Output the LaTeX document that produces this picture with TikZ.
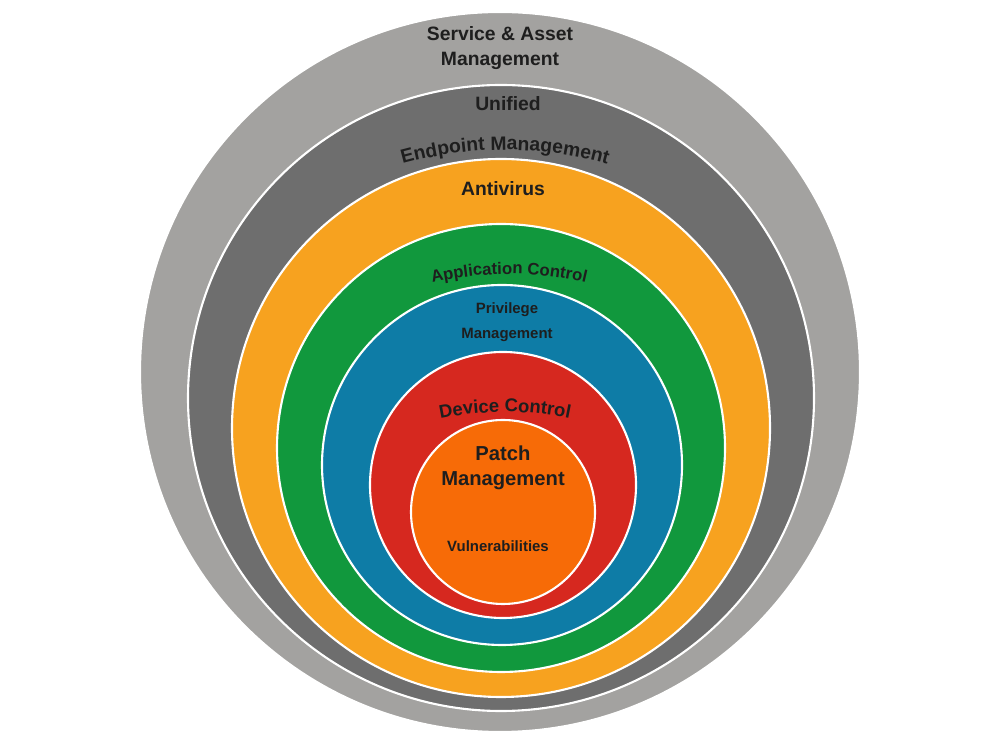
\documentclass[tikz,border=0pt]{standalone}
\usepackage{fontspec}
\setmainfont{Liberation Sans}
\usetikzlibrary{decorations.text}
\definecolor{assetgray}{HTML}{A3A2A0}
\definecolor{uemgray}{HTML}{6E6E6E}
\definecolor{avorange}{HTML}{F7A21F}
\definecolor{acgreen}{HTML}{11983D}
\definecolor{pmblue}{HTML}{0E7CA6}
\definecolor{dcred}{HTML}{D6281F}
\definecolor{patchorange}{HTML}{F76B07}
\definecolor{ink}{HTML}{1E1E1E}
\begin{document}
\begin{tikzpicture}[x=0.02cm,y=0.02cm,
      ring/.style={draw=white, line width=1.2pt},
      label/.style={text=ink, font={\fontsize{#1}{14}\bfseries}, align=center},
      label/.default=10]

    \useasboundingbox (0,0) rectangle (1000,750);

    %draw rings, outside in
    \fill[ring, fill=assetgray]   (500,378) circle (360);
    \fill[ring, fill=uemgray]     (501,352) circle (313);
    \fill[ring, fill=avorange]    (501,322) circle (269);
    \fill[ring, fill=acgreen]     (501,302) circle (224);
    \fill[ring, fill=pmblue]      (502,285) circle (180);
    \fill[ring, fill=dcred]       (503,265) circle (133);
    \fill[ring, fill=patchorange] (503,238) circle (92);

    %draw labels
    \node[label=11] (asset) at (500,702) {Service \& Asset\\Management};
    \node[label=11] (unified) at (508,646) {Unified};
    \path[decorate, decoration={text along path, text align=center,
        text={|\fontsize{11}{11}\bfseries\color{ink}|Endpoint Management}}]
        ([shift={(112:380)}]505,220) arc[start angle=112, end angle=68, radius=380];
    \node[label=11] (antivirus) at (503,561) {Antivirus};
    \path[decorate, decoration={text along path, text align=center,
        text={|\fontsize{9.5}{9.5}\bfseries\color{ink}|Application Control}}]
        ([shift={(113:330)}]509,146) arc[start angle=113, end angle=67, radius=330];
    \node[label=8.5] (privilege) at (507,428) {Privilege\\Management};
    \path[decorate, decoration={text along path, text align=center,
        text={|\fontsize{10.5}{10.5}\bfseries\color{ink}|Device Control}}]
        ([shift={(110:320)}]505,18) arc[start angle=110, end angle=70, radius=320];
    \node[label=11.5] (patch) at (503,282) {Patch\\Management};
    \node[label=8.5] (vulns) at (498,204) {Vulnerabilities};

\end{tikzpicture}
\end{document}
